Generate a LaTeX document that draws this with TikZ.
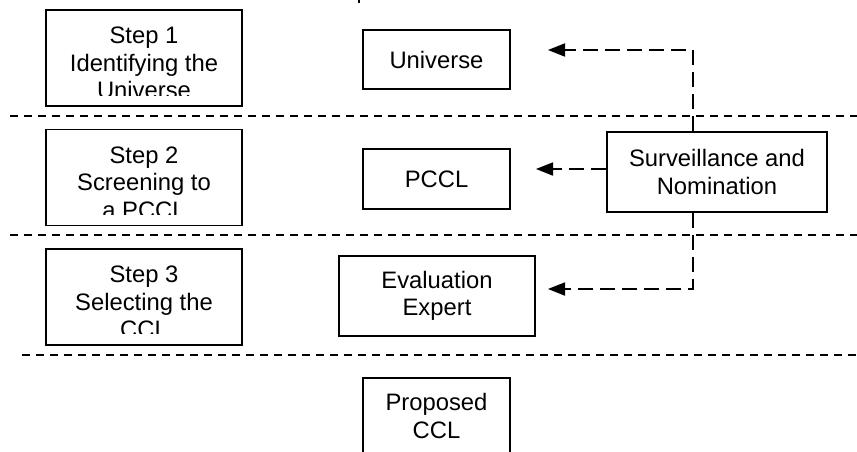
\documentclass[tikz,border=0pt]{standalone}
\usepackage{fontspec}
\setmainfont{Liberation Sans}
\usetikzlibrary{arrows.meta, positioning}

\begin{document}
\begin{tikzpicture}[
    x=1pt, y=-1pt,
    font=\fontsize{23.8}{27.4}\selectfont,
    box/.style={rectangle, draw, line width=1.8pt, align=center, inner sep=0pt},
    steptext/.style={align=center, inner sep=0pt, anchor=north},
    sep/.style={line width=1.6pt, dash pattern=on 7.5pt off 6.5pt},
    flow/.style={-{Triangle[length=17pt, width=13pt]}, line width=1.8pt, dash pattern=on 15pt off 7pt}
]
\useasboundingbox (0,0) rectangle (857,452);

% step boxes, text clipped at the lower edge
\node[box, minimum width=196pt, minimum height=96pt] (step1) at (144,58) {};
\node[box, minimum width=196pt, minimum height=96pt] (step2) at (144,177.5) {};
\node[box, minimum width=196pt, minimum height=96pt] (step3) at (144,297) {};
\begin{scope}
  \clip ([shift={(1,-1)}]step1.north west) rectangle ([shift={(-1,-11)}]step1.south east);
  \node[steptext] (step1txt) at ([yshift=-18pt]step1.north) {Step 1\\Identifying the\\Universe};
\end{scope}
\begin{scope}
  \clip ([shift={(1,-1)}]step2.north west) rectangle ([shift={(-1,-12)}]step2.south east);
  \node[steptext] (step2txt) at ([yshift=-18pt]step2.north) {Step 2\\Screening to\\a PCCL};
\end{scope}
\begin{scope}
  \clip ([shift={(1,-1)}]step3.north west) rectangle ([shift={(-1,-12)}]step3.south east);
  \node[steptext] (step3txt) at ([yshift=-18pt]step3.north) {Step 3\\Selecting the\\CCL};
\end{scope}

% middle column
\node[box, minimum width=147pt, minimum height=59pt] (universe) at (436.5,59.5) {Universe};
\node[box, minimum width=147pt, minimum height=60pt] (pccl) at (436.5,179) {PCCL};
\node[box, minimum width=196pt, minimum height=80pt] (eval) at (437,296) {Evaluation\\Expert};
\node[box, minimum width=147pt, minimum height=76pt] (proposed) at (436.5,416) {Proposed\\CCL};
\node[box, minimum width=220pt, minimum height=80pt] (surv) at (717,172) {Surveillance and\\Nomination};

% stage separators
\draw[sep] (10,116) -- (857,116);
\draw[sep] (10,235) -- (857,235);
\draw[sep] (22,355) -- (857,355);

% feedback connectors
\coordinate (trunk) at (693,172);
\coordinate (uin) at (548,50);
\coordinate (pin) at (536,169);
\coordinate (ein) at (548,289);
\coordinate (topin) at (359,-2);
\draw[flow] (surv.north -| trunk) |- (uin);
\draw[flow] (pin -| surv.west) -- (pin);
\draw[flow] (surv.south -| trunk) |- (ein);
\draw[line width=1.8pt] (topin) -- ++(0,5);
\end{tikzpicture}
\end{document}
